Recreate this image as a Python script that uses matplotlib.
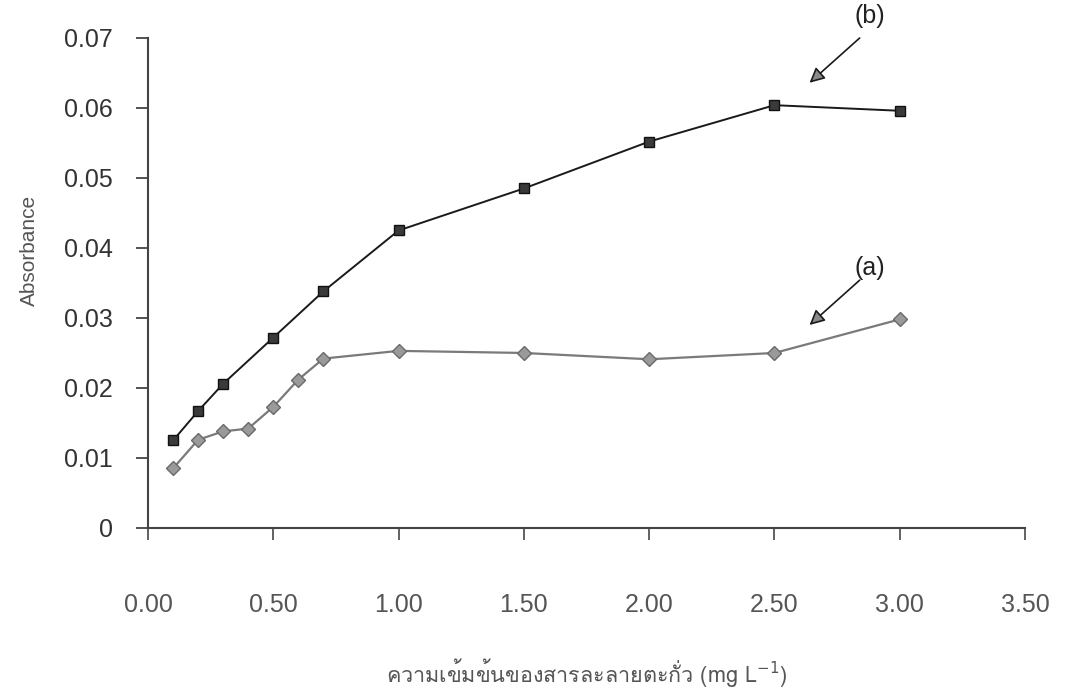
import matplotlib
matplotlib.use("Agg")
import matplotlib.pyplot as plt
from matplotlib import font_manager
from matplotlib.ft2font import FT2Font

# Lead concentration (mg/L) and absorbance for the two measurement series
conc_a = [0.1, 0.2, 0.3, 0.4, 0.5, 0.6, 0.7, 1.0, 1.5, 2.0, 2.5, 3.0]
abs_a = [0.0085, 0.0126, 0.0138, 0.0142, 0.0173, 0.0212, 0.0242, 0.0253, 0.0250, 0.0241, 0.0250, 0.0298]

conc_b = [0.1, 0.2, 0.3, 0.5, 0.7, 1.0, 1.5, 2.0, 2.5, 3.0]
abs_b = [0.0125, 0.0167, 0.0206, 0.0272, 0.0338, 0.0425, 0.0485, 0.0552, 0.0604, 0.0596]

x_ticks = [0.0, 0.5, 1.0, 1.5, 2.0, 2.5, 3.0, 3.5]
x_tick_labels = ["0.00", "0.50", "1.00", "1.50", "2.00", "2.50", "3.00", "3.50"]
y_ticks = [0, 0.01, 0.02, 0.03, 0.04, 0.05, 0.06, 0.07]
y_tick_labels = ["0", "0.01", "0.02", "0.03", "0.04", "0.05", "0.06", "0.07"]

x_label = "ความเข้มข้นของสารละลายตะกั่ว (mg L$^{-1}$)"
y_label = "Absorbance"


def thai_family():
    """Return an installed family that has Thai glyphs, if any."""
    for f in font_manager.fontManager.ttflist:
        try:
            cmap = FT2Font(f.fname).get_charmap()
        except Exception:
            continue
        if 0x0E04 in cmap and 0x0E27 in cmap:
            return f.name
    return None


thai = thai_family()
families = ["Liberation Sans", "DejaVu Sans"]
label_families = ([thai] if thai else []) + families
plt.rcParams["font.family"] = families

fig = plt.figure(figsize=(10.67, 6.88), dpi=100)
ax = fig.add_axes([0.1387, 0.2326, 0.8220, 0.7122])

ax.plot(conc_b, abs_b, color="#1a1a1a", lw=1.4, marker="s", ms=7,
        mfc="#3a3a3a", mec="#111111", mew=1.0, zorder=3)
ax.plot(conc_a, abs_a, color="#7a7a7a", lw=1.6, marker="D", ms=7.5,
        mfc="#9a9a9a", mec="#6a6a6a", mew=1.0, zorder=3)

ax.set_xlim(0, 3.5)
ax.set_ylim(0, 0.07)
ax.set_xticks(x_ticks)
ax.set_xticklabels(x_tick_labels)
ax.set_yticks(y_ticks)
ax.set_yticklabels(y_tick_labels)

for side in ("top", "right"):
    ax.spines[side].set_visible(False)
for side in ("left", "bottom"):
    ax.spines[side].set_color("#444444")
    ax.spines[side].set_linewidth(1.5)

ax.tick_params(axis="y", direction="out", length=8.5, width=1.3,
               color="#444444", labelsize=18, labelcolor="#333333", pad=17)
ax.tick_params(axis="x", direction="out", length=8.5, width=1.3,
               color="#555555", labelsize=18, labelcolor="#555555", pad=38)

ax.set_ylabel(y_label, fontsize=15, color="#555555")
ax.yaxis.set_label_coords(-0.124, 0.567)
ax.set_xlabel(x_label, fontsize=15.5, color="#555555", family=label_families)
ax.xaxis.set_label_coords(0.5, -0.262)

arrow = dict(arrowstyle="-|>,head_length=0.9,head_width=0.45",
             fc="#8a8a8a", ec="#1a1a1a", lw=1.2, shrinkA=0, shrinkB=0)
ax.annotate("", xy=(2.64, 0.0636), xytext=(2.84, 0.0700),
            arrowprops=arrow, annotation_clip=False)
ax.annotate("", xy=(2.64, 0.0290), xytext=(2.84, 0.0354),
            arrowprops=arrow, annotation_clip=False)
ax.text(2.88, 0.0731, "(b)", fontsize=18, color="#222222",
        ha="center", va="center", clip_on=False)
ax.text(2.88, 0.0371, "(a)", fontsize=18, color="#222222",
        ha="center", va="center", clip_on=False)

fig.savefig("out.png", dpi=100)
